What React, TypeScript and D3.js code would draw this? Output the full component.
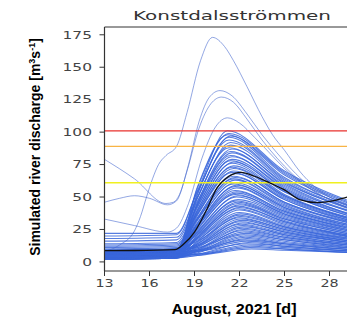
import React from "react";
import * as d3 from "d3";

const W = 347;
const H = 320;

const xTicks = [13, 16, 19, 22, 25, 28];
const yTicks = [0, 25, 50, 75, 100, 125, 150, 175];

const thresholdValues = [101, 89, 61];
const thresholdColors = ["#e8302c", "#f8b445", "#f0f020"];

// key days used by the ensemble members
const startDay = 13;
const kneeDay = 17.8;
const riseDay = 19.2;
const midDay = 25;
const endDay = 30;

// ensemble members
const peakVals = [101, 99, 98, 97, 96, 94, 92, 90, 88, 87, 85, 84, 82, 81, 79, 78, 77, 76, 74, 73, 72, 70, 69, 68, 66, 65, 64, 63, 61, 60, 59, 58, 57, 55, 54, 53, 52, 51, 50, 48, 47, 46, 45, 44, 43, 42, 41, 40, 38, 37, 36, 35, 34, 33, 32, 31, 30, 29, 28, 27, 26, 25, 24, 23, 22, 21, 20, 19, 18, 17, 16, 15, 14, 13, 12, 11, 10];
const peakDays = [21.2, 21.3, 21.2, 21.4, 21.3, 21.3, 21.4, 21.4, 21.3, 21.5, 21.4, 21.5, 21.4, 21.5, 21.5, 21.4, 21.6, 21.5, 21.6, 21.5, 21.6, 21.6, 21.5, 21.7, 21.6, 21.7, 21.6, 21.7, 21.7, 21.6, 21.8, 21.7, 21.8, 21.7, 21.8, 21.8, 21.7, 21.9, 21.8, 21.9, 21.8, 21.9, 21.9, 22.0, 21.9, 22.0, 21.9, 22.0, 22.0, 22.1, 22.0, 22.1, 22.0, 22.1, 22.2, 22.1, 22.2, 22.1, 22.2, 22.3, 22.2, 22.3, 22.2, 22.3, 22.4, 22.3, 22.4, 22.4, 22.5, 22.4, 22.5, 22.6, 22.5, 22.6, 22.7, 22.7, 22.8];
const startVals = [22, 6, 8, 20, 5, 7, 18, 4, 9, 3, 16, 6, 2, 8, 5, 14, 7, 3, 9, 4, 6, 13, 2, 7, 5, 8, 3, 12, 6, 4, 9, 2, 7, 5, 11, 3, 8, 6, 4, 7, 2, 9, 5, 3, 10, 6, 4, 8, 2, 7, 5, 3, 9, 6, 4, 2, 8, 5, 3, 7, 4, 6, 2, 5, 8, 3, 6, 4, 2, 7, 5, 3, 6, 4, 2, 5, 3];
const kneeVals = [22, 8, 9, 21, 7, 9, 19, 6, 10, 5, 17, 8, 4, 9, 7, 15, 8, 5, 10, 6, 7, 14, 4, 9, 6, 9, 5, 13, 7, 6, 10, 4, 8, 6, 12, 5, 9, 7, 5, 8, 3, 10, 6, 4, 11, 7, 5, 9, 3, 8, 6, 4, 10, 7, 5, 3, 9, 6, 4, 8, 5, 7, 3, 6, 9, 4, 7, 5, 3, 8, 6, 4, 7, 5, 3, 6, 4];
const riseVals = [55, 57, 58, 54, 52, 53, 50, 49, 50, 46, 47, 45, 44, 44, 42, 43, 40, 40, 39, 38, 37, 37, 36, 34, 34, 33, 32, 33, 30, 30, 29, 28, 28, 27, 28, 25, 26, 24, 23, 23, 21, 22, 20, 19, 21, 19, 18, 18, 16, 17, 15, 14, 16, 14, 13, 12, 13, 12, 11, 12, 10, 10, 9, 9, 11, 8, 9, 8, 7, 9, 8, 6, 8, 6, 5, 6, 5];
const day25Vals = [70, 69, 67, 68, 65, 64, 63, 62, 61, 60, 59, 58, 56, 57, 55, 54, 54, 52, 51, 51, 50, 49, 48, 48, 46, 46, 45, 44, 43, 42, 42, 41, 40, 39, 39, 38, 37, 37, 36, 35, 34, 33, 33, 32, 31, 31, 30, 29, 28, 27, 27, 26, 25, 25, 24, 23, 23, 22, 21, 21, 20, 19, 19, 18, 17, 17, 16, 15, 14, 14, 13, 12, 12, 11, 10, 10, 9];
const endVals = [44, 43, 41, 42, 40, 41, 39, 38, 39, 37, 36, 37, 35, 34, 34, 33, 33, 32, 32, 31, 31, 30, 30, 29, 29, 28, 28, 27, 27, 26, 26, 25, 25, 24, 24, 23, 23, 22, 22, 21, 21, 20, 20, 19, 19, 18, 18, 18, 17, 17, 16, 16, 15, 15, 15, 14, 14, 14, 13, 13, 12, 12, 12, 11, 11, 10, 10, 10, 9, 9, 9, 8, 8, 8, 7, 7, 7];

// outlier members traced point by point [day, value]
const outlierA: [number, number][] = [[13, 8], [14, 13], [15, 24], [15.4, 35], [15.8, 50], [16.2, 64], [16.6, 75], [17.1, 82], [17.8, 89], [18.5, 115], [19.4, 155], [20.2, 173], [21, 166], [21.6, 155], [22.5, 135], [23.5, 112], [24.2, 98], [25, 86], [26, 70], [27, 58], [28, 50], [30, 41]];
const outlierB: [number, number][] = [[13, 79], [15, 64], [17.1, 45], [17.6, 46], [18, 52], [18.6, 75], [19.3, 108], [20, 127], [20.7, 132], [21.5, 128], [22.5, 114], [23.5, 98], [24.5, 84], [25.5, 71], [26.5, 60], [28, 50], [30, 40]];
const outlierC: [number, number][] = [[13, 46], [14, 49], [15, 51], [16, 49], [17.2, 44], [17.8, 47], [18.5, 70], [19.3, 103], [20.1, 122], [20.8, 127], [21.6, 123], [22.5, 110], [23.5, 94], [24.5, 80], [25.5, 68], [26.5, 58], [28, 48], [30, 38]];
const outlierD: [number, number][] = [[13, 33], [15, 28], [17.2, 23], [17.8, 26], [18.6, 45], [19.5, 80], [20.4, 104], [21.2, 111], [22, 107], [23, 96], [24, 84], [25, 72], [26, 62], [27.5, 51], [30, 38]];

// observed (black) line
const obsDays = [13, 15, 17.7, 18.3, 19, 19.8, 20.5, 21.3, 22.1, 23, 24, 25, 26, 27.2, 28.2, 29.2, 30];
const obsVals = [8.7, 8.8, 9.5, 14, 23, 40, 57, 66, 69, 66, 61, 55.5, 48, 45.7, 47, 50, 52];

const x = d3.scaleLinear().domain([13, 30]).range([104.5, 359.5]);
const y = d3.scaleLinear().domain([-7, 181]).range([271, 27]);

const line = d3
  .line<[number, number]>()
  .x((d) => x(d[0]))
  .y((d) => y(d[1]))
  .curve(d3.curveMonotoneX);

const members: [number, number][][] = peakVals.map((p, i) => [
  [startDay, startVals[i]],
  [kneeDay, kneeVals[i]],
  [riseDay, riseVals[i]],
  [peakDays[i], p],
  [midDay, day25Vals[i]],
  [endDay, endVals[i]],
]);
const outliers = [outlierA, outlierB, outlierC, outlierD];
const obs: [number, number][] = obsDays.map((d, i) => [d, obsVals[i]]);

export default function App() {
  const left = 104.5;
  const top = 27;
  const bottom = 271;
  const tickFont = "DejaVu Sans";
  return (
    <svg width={W} height={H} style={{ position: "absolute", left: 0, top: 0, background: "#fff" }}>
      <defs>
        <clipPath id="plot">
          <rect x={left} y={top} width={W - left} height={bottom - top} />
        </clipPath>
      </defs>
      <text
        x={133}
        y={20}
        fontFamily={tickFont}
        fontSize={12.5}
        fill="#333"
        textLength={198}
        lengthAdjust="spacingAndGlyphs"
      >
        Konstdalsströmmen
      </text>
      <g clipPath="url(#plot)">
        {members.map((m, i) => (
          <path key={i} d={line(m) || ""} fill="none" stroke="#3a66da" strokeWidth={1.05} strokeOpacity={0.85} />
        ))}
        {outliers.map((m, i) => (
          <path key={"o" + i} d={line(m) || ""} fill="none" stroke="#4a6cd0" strokeWidth={0.8} strokeOpacity={0.75} />
        ))}
        {thresholdValues.map((v, i) => (
          <line key={"t" + i} x1={left} x2={W} y1={y(v)} y2={y(v)} stroke={thresholdColors[i]} strokeWidth={1.4} />
        ))}
        <path d={line(obs) || ""} fill="none" stroke="#111" strokeWidth={1.3} />
      </g>
      {/* frame */}
      <line x1={left} x2={W} y1={top} y2={top} stroke="#333" strokeWidth={1} />
      <line x1={left} x2={left} y1={top} y2={bottom} stroke="#333" strokeWidth={1.2} />
      <line x1={left} x2={W} y1={bottom} y2={bottom} stroke="#333" strokeWidth={1.2} />
      {yTicks.map((t) => (
        <g key={"y" + t}>
          <line x1={left - 5} x2={left} y1={y(t)} y2={y(t)} stroke="#333" strokeWidth={1} />
          <text
            transform={`translate(92,${y(t) + 3.8}) scale(1.5,1)`}
            textAnchor="end"
            fontFamily={tickFont}
            fontSize={10.3}
            fill="#444"
          >
            {t}
          </text>
        </g>
      ))}
      {xTicks.map((t) => (
        <g key={"x" + t}>
          <line x1={x(t)} x2={x(t)} y1={bottom} y2={bottom + 5} stroke="#333" strokeWidth={1} />
          <text
            transform={`translate(${x(t)},287) scale(1.3,1)`}
            textAnchor="middle"
            fontFamily={tickFont}
            fontSize={11}
            fill="#444"
          >
            {t}
          </text>
        </g>
      ))}
      <text
        x={234}
        y={314}
        textAnchor="middle"
        fontFamily="Liberation Sans"
        fontWeight="bold"
        fontSize={14}
        fill="#000"
        textLength={125}
        lengthAdjust="spacingAndGlyphs"
      >
        August, 2021 [d]
      </text>
      <text
        transform="translate(40,147) rotate(-90)"
        textAnchor="middle"
        fontFamily="Liberation Sans"
        fontWeight="bold"
        fontSize={14}
        fill="#000"
      >
        Simulated river discharge [m
        <tspan fontSize={9} dy={-5.5}>3</tspan>
        <tspan dy={5.5}>s</tspan>
        <tspan fontSize={9} dy={-5.5}>-1</tspan>
        <tspan dy={5.5}>]</tspan>
      </text>
    </svg>
  );
}
